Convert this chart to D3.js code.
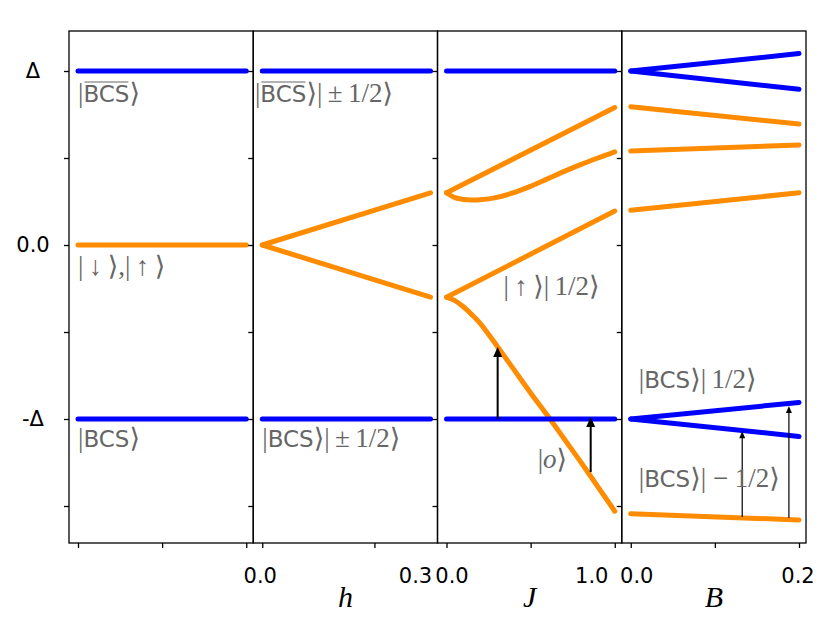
<!DOCTYPE html>
<html>
<head>
<meta charset="utf-8">
<script src="https://cdn.jsdelivr.net/npm/d3@7"></script>
<style>
  body { margin: 0; background: #fff; }
  .state { fill: #666; }
</style>
</head>
<body>
<svg id="chart" width="830" height="623"></svg>
<script>
// ---------- data ----------
var yTickValues = [1, 0.5, 0, -0.5, -1, -1.5];
var yTickLabels = ["\u0394", "", "0.0", "", "-\u0394", ""];

// panel 1: no field
var x1Vals = [-1, 0];
var x1Ticks = [-1, -0.5, 0];
var p1Bcs = [1, 1];
var p1Spin = [0, 0];
var p1Gs = [-1, -1];

// panel 2: h
var hVals = [0, 0.3];
var hTicks = [0, 0.2];
var hTickLabels = [[0, "0.0"], [0.3, "0.3"]];
var p2BcsTop = [1, 1];
var p2Up = [0, 0.30];
var p2Down = [0, -0.30];
var p2BcsBot = [-1, -1];

// panel 3: J
var jEnds = [0, 1];
var jVals = [0, 0.05, 0.1, 0.15, 0.2, 0.3, 0.4, 0.5, 0.6, 0.7, 0.8, 0.9, 1.0];
var jTicks = [0, 0.5, 1];
var jTickLabels = [[0, "0.0"], [1, "1.0"]];
var p3BcsTop = [1, 1];
var p3A = [0.30, 0.79];
var p3B = [0.30, 0.272, 0.262, 0.259, 0.26, 0.274, 0.301, 0.338, 0.38, 0.423, 0.463, 0.50, 0.535];
var p3C = [-0.30, 0.195];
var p3D = [-0.30, -0.32, -0.355, -0.40, -0.45, -0.58, -0.715, -0.85, -0.98, -1.115, -1.25, -1.39, -1.53];
var p3BcsBot = [-1, -1];
var jArrows = [[0.304, -1.0, -0.586], [0.857, -1.305, -0.989]];

// panel 4: B
var bVals = [0, 0.2];
var bTicks = [0, 0.1, 0.2];
var bTickLabels = [[0, "0.0"], [0.2, "0.2"]];
var p4BcsTopUp = [1.0, 1.10];
var p4BcsTopDown = [1.0, 0.895];
var p4O1 = [0.795, 0.695];
var p4O2 = [0.54, 0.575];
var p4O3 = [0.20, 0.30];
var p4BcsBotUp = [-1.0, -0.905];
var p4BcsBotDown = [-1.0, -1.10];
var p4O4 = [-1.545, -1.58];
var bArrows = [[0.1325, -1.563, -1.07], [0.188, -1.569, -0.925]];

var axisNames = ["", "h", "J", "B"];

// state labels: [panel, x, y, text]  ("^BCS" = overlined, "_o" = italic o)
var stateLabels = [
  [0, -1, 0.822, "|^BCS\u27e9"],
  [0, -1, -0.172, "|\u2009\u2193\u2009\u27e9,|\u2009\u2191\u2009\u27e9"],
  [0, -1, -1.161, "|BCS\u27e9"],
  [1, -0.013, 0.822, "|^BCS\u27e9|\u2009\u00b1\u20091/2\u27e9"],
  [1, 0, -1.161, "|BCS\u27e9|\u2009\u00b1\u20091/2\u27e9"],
  [2, 0.339, -0.287, "|\u2009\u2191\u2009\u27e9|\u20091/2\u27e9"],
  [2, 0.542, -1.28, "|_o\u27e9"],
  [3, 0.0095, -0.822, "|BCS\u27e9|\u20091/2\u27e9"],
  [3, 0.0095, -1.391, "|BCS\u27e9| \u2212 1/2\u27e9"]
];

// ---------- layout ----------
var BLUE = "#0000ff", ORANGE = "#ff8c00";
var plotLeft = 69, plotTop = 31, plotBottom = 543, panelW = 184.25;
var SERIF = "Liberation Serif, DejaVu Serif";

var panels = [
  { domain: [-1, 0], ticks: x1Ticks, labels: [], shifts: [],
    series: [[x1Vals, p1Bcs, BLUE], [x1Vals, p1Spin, ORANGE], [x1Vals, p1Gs, BLUE]], arrows: [] },
  { domain: [0, 0.3], ticks: hTicks, labels: hTickLabels, shifts: [-2, -15],
    series: [[hVals, p2BcsTop, BLUE], [hVals, p2Up, ORANGE], [hVals, p2Down, ORANGE], [hVals, p2BcsBot, BLUE]],
    arrows: [] },
  { domain: [0, 1], ticks: jTicks, labels: jTickLabels, shifts: [5.5, -23],
    series: [[jEnds, p3BcsTop, BLUE], [jEnds, p3A, ORANGE], [jVals, p3B, ORANGE], [jEnds, p3C, ORANGE],
             [jVals, p3D, ORANGE], [jEnds, p3BcsBot, BLUE]],
    arrows: jArrows, arrowW: 2, headL: 10, headW: 4.5 },
  { domain: [0, 0.2], ticks: bTicks, labels: bTickLabels, shifts: [6, -1],
    series: [[bVals, p4BcsTopUp, BLUE], [bVals, p4BcsTopDown, BLUE], [bVals, p4O1, ORANGE],
             [bVals, p4O2, ORANGE], [bVals, p4O3, ORANGE], [bVals, p4BcsBotUp, BLUE],
             [bVals, p4BcsBotDown, BLUE], [bVals, p4O4, ORANGE]],
    arrows: bArrows, arrowW: 1.2, headL: 7, headW: 3 }
];

var svg = d3.select("#chart");
var y = d3.scaleLinear().domain([-1.7126, 1.2299]).range([plotBottom, plotTop]);

panels.forEach(function (p, i) {
  var x0 = plotLeft + i * panelW, x1 = x0 + panelW;
  var x = d3.scaleLinear().domain(p.domain).range([x0 + 9, x1 - 7]);
  var g = svg.append("g");

  // data lines
  var line = d3.line()
    .x(function (d) { return x(d[0]); })
    .y(function (d) { return y(d[1]); })
    .curve(d3.curveCatmullRom.alpha(0.5));
  p.series.forEach(function (s) {
    g.append("path")
      .datum(s[0].map(function (v, k) { return [v, s[1][k]]; }))
      .attr("d", line)
      .attr("fill", "none")
      .attr("stroke", s[2])
      .attr("stroke-width", 5)
      .attr("stroke-linecap", "round")
      .attr("stroke-linejoin", "round");
  });

  // arrows
  p.arrows.forEach(function (a) {
    var ax = x(a[0]), yFrom = y(a[1]), yTo = y(a[2]);
    g.append("line")
      .attr("x1", ax).attr("x2", ax)
      .attr("y1", yFrom).attr("y2", yTo + p.headL - 1)
      .attr("stroke", "#000").attr("stroke-width", p.arrowW);
    g.append("path")
      .attr("d", "M" + ax + "," + yTo + "L" + (ax - p.headW) + "," + (yTo + p.headL) +
                 "L" + (ax + p.headW) + "," + (yTo + p.headL) + "Z")
      .attr("fill", "#000");
  });

  // frame
  g.append("rect")
    .attr("x", x0).attr("y", plotTop)
    .attr("width", panelW).attr("height", plotBottom - plotTop)
    .attr("fill", "none").attr("stroke", "#000").attr("stroke-width", 1.3);

  // y axis ticks
  var yAxis = d3.axisLeft(y).tickValues(yTickValues).tickSize(5).tickSizeOuter(0)
    .tickFormat(function (d, k) { return i === 0 ? yTickLabels[k] : ""; });
  var ya = g.append("g").attr("transform", "translate(" + x0 + ",0)").call(yAxis);
  ya.select(".domain").remove();
  ya.selectAll(".tick line").attr("stroke-width", 1.3);
  ya.selectAll(".tick text")
    .attr("x", 33 - x0).attr("text-anchor", "middle")
    .attr("font-family", "DejaVu Sans").attr("font-size", 21).attr("fill", "#000");

  // x axis ticks
  var xAxis = d3.axisBottom(x).tickValues(p.ticks).tickSize(5).tickSizeOuter(0).tickFormat("");
  var xa = g.append("g").attr("transform", "translate(0," + plotBottom + ")").call(xAxis);
  xa.select(".domain").remove();
  xa.selectAll(".tick line").attr("stroke-width", 1.3);

  p.labels.forEach(function (l, k) {
    g.append("text")
      .attr("x", x(l[0]) + p.shifts[k]).attr("y", 583)
      .attr("text-anchor", "middle")
      .attr("font-family", "DejaVu Sans").attr("font-size", 21)
      .text(l[1]);
  });

  if (axisNames[i]) {
    g.append("text")
      .attr("x", (x0 + x1) / 2).attr("y", 607)
      .attr("text-anchor", "middle")
      .attr("font-family", SERIF).attr("font-style", "italic")
      .attr("font-size", 30)
      .text(axisNames[i]);
  }

  p.x = x;
});

// state labels
stateLabels.forEach(function (s) {
  var p = panels[s[0]];
  var t = svg.append("text").attr("class", "state")
    .attr("x", p.x(s[1])).attr("y", y(s[2]));
  s[3].split(/(\^BCS|BCS|_o)/).forEach(function (part) {
    if (!part) return;
    if (part === "BCS" || part === "^BCS") {
      var ts = t.append("tspan").attr("font-family", "DejaVu Sans").attr("font-size", 23).text("BCS");
      if (part === "^BCS") ts.classed("over", true);
    } else if (part === "_o") {
      t.append("tspan").attr("font-family", SERIF).attr("font-size", 27)
        .attr("font-style", "italic").text("o");
    } else {
      t.append("tspan").attr("font-family", SERIF).attr("font-size", 27).text(part);
    }
  });
  t.selectAll("tspan.over").each(function () {
    var a = this.getStartPositionOfChar(0), b = this.getEndPositionOfChar(2);
    svg.append("line")
      .attr("x1", a.x + 1).attr("x2", b.x - 1)
      .attr("y1", a.y - 20).attr("y2", a.y - 20)
      .attr("stroke", "#666").attr("stroke-width", 1.2);
  });
});
</script>
</body>
</html>
